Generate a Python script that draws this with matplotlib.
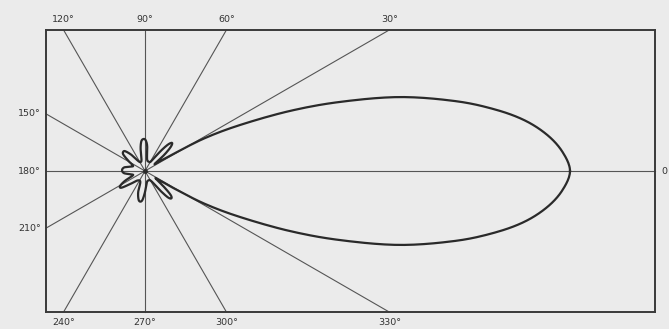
import numpy as np
import matplotlib.pyplot as plt

# radiation pattern: angle (deg) and radius (px, peak = 425 at 0 deg)
angle_deg = [0, 2.6, 5.1, 7.6, 10.0, 12.7, 16.2, 19.5, 22.5, 25.8, 28.8, 31, 33.5,
             36, 40, 43, 46, 49, 52, 57, 66, 80, 85, 89, 93, 97, 101, 107,
             116, 124, 130, 135, 139, 143, 149, 156, 163, 170, 178, 186, 194,
             200, 206, 210, 213, 216, 222, 232, 247, 252, 257, 261, 265, 270, 278,
             290, 302, 308, 311, 314, 317, 320, 325, 327.5, 329, 331.2, 334.2, 337.5,
             340.5, 343.8, 347.3, 350.0, 352.4, 354.9, 357.4]
radius_px = [425, 418, 404, 383, 355, 318, 265, 207, 157, 106, 68, 33, 17,
             12, 25, 35, 39, 35, 25, 12, 10, 12, 25, 31, 32, 30, 23, 12,
             10, 12, 21, 28, 29, 27, 19, 13, 15, 21, 23, 21, 14,
             13, 22, 28, 30, 28, 19, 12, 12, 22, 29, 31, 29, 21, 12,
             10, 12, 25, 35, 38, 35, 25, 13, 17, 33, 68, 106, 157,
             207, 265, 318, 355, 383, 404, 418]
peak_px = 425.0

ray_angles = [0, 30, 60, 90, 120, 150, 180, 210, 240, 270, 300, 330]
ray_labels = ['0', '30°', '60°', '90°', '120°', '150°', '180°', '210°',
              '240°', '270°', '300°', '330°']

# box limits (relative units, origin at the antenna)
xmin, xmax = -99 / peak_px, 510 / peak_px
ymin, ymax = -141 / peak_px, 141 / peak_px


def closed_spline(px, py, n=12):
    # closed Catmull-Rom curve through the read points, just for drawing
    P = np.column_stack([px, py])
    m = len(P)
    out = []
    t = np.linspace(0, 1, n, endpoint=False)[:, None]
    for i in range(m):
        p0, p1, p2, p3 = P[i - 1], P[i], P[(i + 1) % m], P[(i + 2) % m]
        seg = 0.5 * ((2 * p1) + (-p0 + p2) * t + (2 * p0 - 5 * p1 + 4 * p2 - p3) * t ** 2
                     + (-p0 + 3 * p1 - 3 * p2 + p3) * t ** 3)
        out.append(seg)
    out = np.vstack(out + [P[:1]])
    return out[:, 0], out[:, 1]


fig = plt.figure(figsize=(6.69, 3.29), dpi=100)
fig.patch.set_facecolor('#ebebeb')
ax = fig.add_axes([46 / 669, 17 / 329, 609 / 669, 282 / 329])
ax.set_facecolor('#ebebeb')
ax.set_xlim(xmin, xmax)
ax.set_ylim(ymin, ymax)
ax.set_aspect('equal')
ax.set_xticks([])
ax.set_yticks([])
for s in ax.spines.values():
    s.set_linewidth(1.4)
    s.set_color('#3a3a3a')

kw = dict(fontsize=6.8, color='#333333', family='DejaVu Sans')
for a, lab in zip(ray_angles, ray_labels):
    t = np.radians(a)
    dx, dy = np.cos(t), np.sin(t)
    # distance to the box edge along the ray
    cands = []
    if dx > 1e-9:
        cands.append(xmax / dx)
    if dx < -1e-9:
        cands.append(xmin / dx)
    if dy > 1e-9:
        cands.append(ymax / dy)
    if dy < -1e-9:
        cands.append(ymin / dy)
    L = min(cands)
    ex, ey = L * dx, L * dy
    ax.plot([0, ex], [0, ey], color='#555555', lw=0.8, clip_on=False)
    if abs(ey - ymax) < 1e-6:
        ax.text(ex, ey + 0.015, lab, ha='center', va='bottom', **kw)
    elif abs(ey - ymin) < 1e-6:
        ax.text(ex, ey - 0.015, lab, ha='center', va='top', **kw)
    elif abs(ex - xmin) < 1e-6:
        ax.text(ex - 0.012, ey, lab, ha='right', va='center', **kw)
    else:
        ax.text(ex + 0.015, ey, lab, ha='left', va='center', **kw)

th = np.radians(angle_deg)
r = np.array(radius_px) / peak_px
sx, sy = closed_spline(r * np.cos(th), r * np.sin(th))
ax.plot(sx, sy, color='#2a2a2a', lw=1.6, solid_joinstyle='round')
ax.plot([0], [0], 'o', color='#2a2a2a', ms=2.5)

fig.savefig('out.png', dpi=100, facecolor=fig.get_facecolor())
